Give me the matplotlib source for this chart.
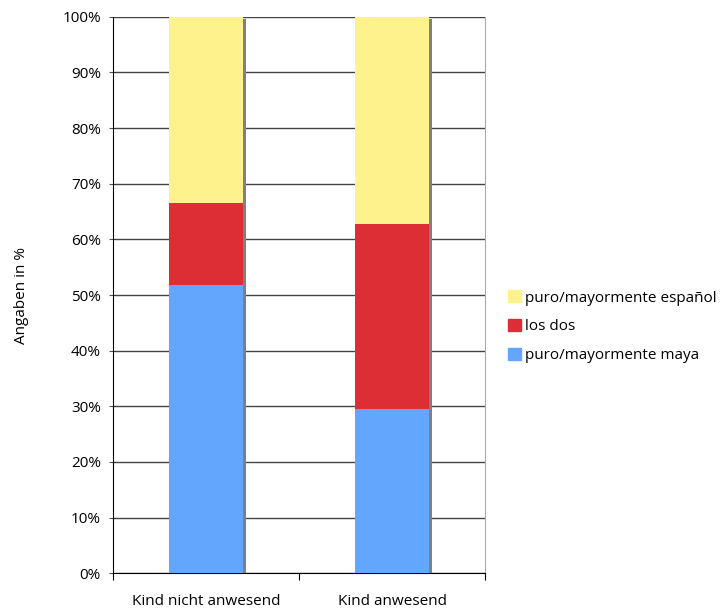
import matplotlib.pyplot as plt
from matplotlib.patches import Patch

plt.rcParams['font.family'] = ['Open Sans', 'DejaVu Sans']

categories = ["Kind nicht anwesend", "Kind anwesend"]
maya = [51.8, 29.6]
los_dos = [14.7, 33.2]
espanol = [33.5, 37.2]

c_maya = "#62a6fe"
c_dos = "#de2e35"
c_esp = "#fef28c"

fig = plt.figure(figsize=(7.23, 6.12), dpi=100)
ax = fig.add_axes([0.1567, 0.0632, 0.5143, 0.9095])

x = [0.5, 1.5]
w = 0.4
bottom2 = [a + b for a, b in zip(maya, los_dos)]

# shadow on the right side of each bar
for xi in x:
    ax.bar(xi + w / 2 + 0.006, 99.6, width=0.014, bottom=0, color="#808080", zorder=2)

ax.bar(x, maya, width=w, color=c_maya, zorder=3)
ax.bar(x, los_dos, width=w, bottom=maya, color=c_dos, zorder=3)
ax.bar(x, espanol, width=w, bottom=bottom2, color=c_esp, zorder=3)

ax.set_xlim(0, 2)
ax.set_ylim(0, 100)
ax.set_yticks(range(0, 101, 10))
ax.set_yticklabels([f"{v}%" for v in range(0, 101, 10)])
ax.yaxis.grid(True, color="#444444", linewidth=1)
ax.set_axisbelow(True)

ax.set_xticks([0, 1, 2])
ax.set_xticklabels([])
ax.set_xticks(x, minor=True)
ax.set_xticklabels(categories, minor=True)
ax.tick_params(axis="x", which="minor", length=0, pad=15, labelsize=11)
ax.tick_params(axis="x", which="major", length=5, direction="out", color="black")
ax.tick_params(axis="y", length=3, labelsize=11, pad=6, color="#555555")

ax.spines["left"].set_color("black")
ax.spines["bottom"].set_color("black")
ax.spines["right"].set_color("#aaaaaa")
ax.spines["top"].set_visible(False)

ax.set_ylabel("Angaben in %", fontsize=11, labelpad=24)

handles = [Patch(color=c_esp), Patch(color=c_dos), Patch(color=c_maya)]
labels = ["puro/mayormente español", "los dos", "puro/mayormente maya"]
fig.legend(handles, labels, loc="center left", bbox_to_anchor=(0.703, 0.466),
           frameon=False, fontsize=11, handlelength=0.85, handleheight=0.85,
           handletextpad=0.25, labelspacing=0.88, borderpad=0, borderaxespad=0)

fig.savefig("out.png", dpi=100)
